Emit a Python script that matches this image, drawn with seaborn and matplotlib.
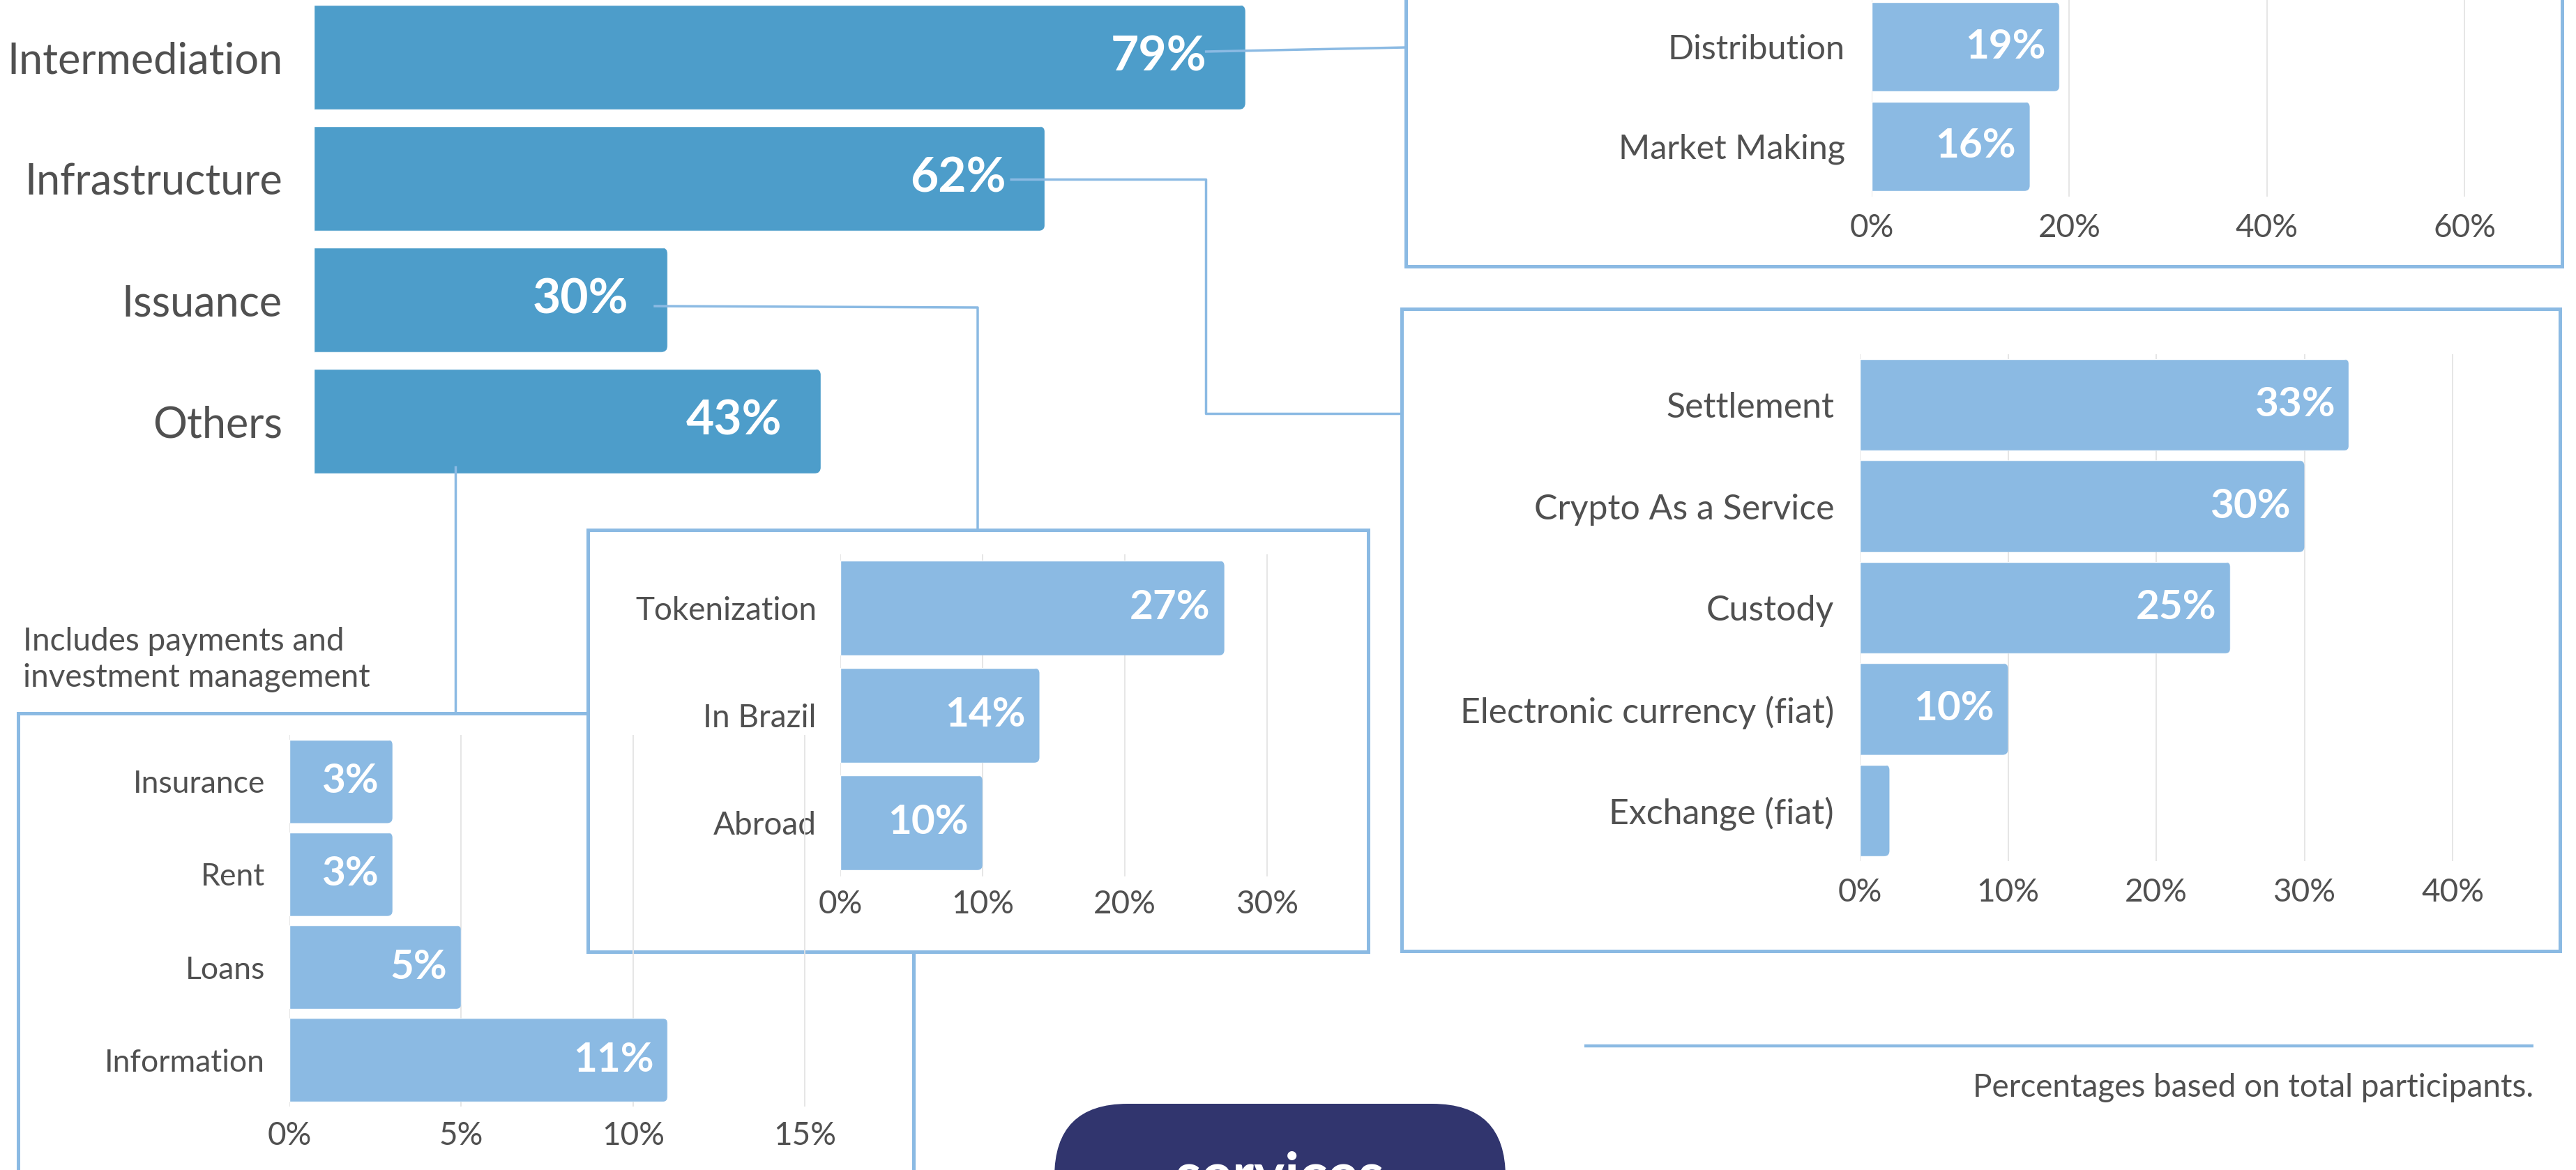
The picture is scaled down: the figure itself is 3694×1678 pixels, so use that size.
import matplotlib
matplotlib.use("Agg")
import matplotlib.pyplot as plt
import seaborn as sns
import pandas as pd
from matplotlib.patches import Rectangle, FancyBboxPatch
from matplotlib.transforms import IdentityTransform

# ---------------- data ----------------
main_categories = ["Intermediation", "Infrastructure", "Issuance", "Others"]
main_values = [79, 62, 30, 43]

intermediation_categories = ["Distribution", "Market Making"]
intermediation_values = [19, 16]
intermediation_ticks = [0, 20, 40, 60]

infrastructure_categories = ["Settlement", "Crypto As a Service", "Custody",
                             "Electronic currency (fiat)", "Exchange (fiat)"]
infrastructure_values = [33, 30, 25, 10, 2]
infrastructure_ticks = [0, 10, 20, 30, 40]

issuance_categories = ["Tokenization", "In Brazil", "Abroad"]
issuance_values = [27, 14, 10]
issuance_ticks = [0, 10, 20, 30]

others_categories = ["Insurance", "Rent", "Loans", "Information"]
others_values = [3, 3, 5, 11]
others_ticks = [0, 5, 10, 15]

others_note = "Includes payments and\ninvestment management"
footnote = "Percentages based on total participants."
badge_text = "services"

# ---------------- style ----------------
W, H, DPI = 3694, 1678, 100
PT = DPI / 72.0
MAIN_C = "#4D9DCA"
SUB_C = "#8BBAE3"
LINE_C = "#8BBAE3"
TXT = "#505050"
NAVY = "#31356E"
GRID_C = "#E4E4E4"

sns.set_theme(style="whitegrid")
plt.rcParams["font.family"] = ["Lato", "DejaVu Sans"]
plt.rcParams["font.weight"] = "normal"

fig = plt.figure(figsize=(W / DPI, H / DPI), dpi=DPI)
fig.patch.set_facecolor("white")


def px_axes(left, top, right, bottom, z=1):
    return fig.add_axes([left / W, 1 - bottom / H, (right - left) / W, (bottom - top) / H], zorder=z)


def overlay(z):
    a = px_axes(0, 0, W, H, z=z)
    a.set_xlim(0, W)
    a.set_ylim(H, 0)
    a.axis("off")
    return a


bg = overlay(0)


def box(l, t, r, b, fill="none", z=1):
    bg.add_patch(Rectangle((l, t), r - l, b - t, fc=fill, ec=LINE_C, lw=3.6, zorder=z))


box(26, 1023, 1310, 1760, fill="white", z=1)     # others box
box(843, 760, 1962, 1365, fill="white", z=2)     # issuance box
box(2016, -20, 3674, 382, fill="white", z=1)     # intermediation box
box(2010, 443, 3671, 1364, fill="white", z=1)    # infrastructure box


def round_bar_ends(ax, radius=9):
    """Clip each bar to a shape with rounded right-hand corners."""
    for p in ax.containers[0]:
        bb = p.get_window_extent()
        clip = FancyBboxPatch((bb.x0 - 40, bb.y0), bb.width + 40, bb.height,
                              boxstyle=f"round,pad=0,rounding_size={radius}",
                              transform=IdentityTransform())
        p.set_clip_path(clip)


def value_labels(ax, values, off_px, size, min_show=3):
    for p, v in zip(ax.containers[0], values):
        if v < min_show:
            continue
        ax.annotate(f"{v}%", (p.get_width(), p.get_y() + p.get_height() / 2),
                    xytext=(-off_px, 0), textcoords="offset pixels",
                    ha="right", va="center", color="white",
                    fontsize=size, fontweight="bold")


def sub_chart(rect, cats, vals, ticks, xmax, width, ypad_px, xpad_px, lab_size):
    ax = px_axes(*rect, z=2)
    df = pd.DataFrame({"cat": cats, "val": vals})
    sns.barplot(data=df, x="val", y="cat", orient="h", color=SUB_C,
                width=width, saturation=1, ax=ax)
    ax.set_xlim(0, xmax)
    ax.set_xticks(ticks)
    ax.set_xticklabels([f"{t}%" for t in ticks])
    ax.set_xlabel("")
    ax.set_ylabel("")
    ax.set_facecolor("none")
    ax.grid(axis="x", color=GRID_C, lw=1.3)
    ax.grid(axis="y", visible=False)
    for s in ax.spines.values():
        s.set_visible(False)
    ax.tick_params(axis="y", length=0, pad=ypad_px / PT, labelsize=lab_size, labelcolor=TXT)
    ax.tick_params(axis="x", length=0, pad=xpad_px / PT, labelsize=33, labelcolor=TXT)
    value_labels(ax, vals, 20, 42)
    round_bar_ends(ax, 8)
    return ax


# ---------------- main chart ----------------
ax_main = px_axes(450, -5, 450 + 80 * 16.91, 691, z=2)
df_main = pd.DataFrame({"cat": main_categories, "val": main_values})
sns.barplot(data=df_main, x="val", y="cat", orient="h", color=MAIN_C,
            width=0.865, saturation=1, ax=ax_main)
ax_main.set_xlim(0, 80)
ax_main.set_xlabel("")
ax_main.set_ylabel("")
ax_main.set_xticks([])
ax_main.grid(False)
ax_main.set_facecolor("none")
for s in ax_main.spines.values():
    s.set_visible(False)
ax_main.tick_params(axis="y", length=0, pad=45 / PT, labelsize=44, labelcolor=TXT)
value_labels(ax_main, main_values, 56, 50)
round_bar_ends(ax_main, 10)

# ---------------- sub charts ----------------
ax_a = sub_chart((2684, -4.5, 2684 + 62 * 14.17, 281.5), intermediation_categories,
                 intermediation_values, intermediation_ticks, 62, 0.895, 38, 24, 35)
ax_b = sub_chart((2667, 508, 2667 + 42 * 21.25, 1235), infrastructure_categories,
                 infrastructure_values, infrastructure_ticks, 42, 0.905, 37, 24, 36)
ax_c = sub_chart((1205, 795, 1205 + 32 * 20.4, 1257), issuance_categories,
                 issuance_values, issuance_ticks, 32, 0.883, 34, 19, 33)
ax_d = sub_chart((415, 1054, 415 + 16 * 49.3, 1587), others_categories,
                 others_values, others_ticks, 16, 0.9, 35, 21, 32)

# ---------------- foreground: connectors, notes, badge ----------------
fg = overlay(5)


def bar_end_px(ax, idx, off):
    p = ax.containers[0][idx]
    x, y = ax.transData.transform((p.get_width(), p.get_y() + p.get_height() / 2))
    return x - off, H - y


lk = dict(color=LINE_C, lw=2.5, solid_capstyle="butt", zorder=5)
x0, y0 = bar_end_px(ax_main, 0, 58)
fg.plot([x0, 2016], [y0 - 8, 68], **lk)
x0, y0 = bar_end_px(ax_main, 1, 50)
fg.plot([x0, 1729, 1729, 2010], [257, 257, 593, 593], **lk)
x0, y0 = bar_end_px(ax_main, 2, 20)
fg.plot([x0, 1402, 1402], [439, 441, 760], **lk)
fg.plot([653, 653], [668, 1023], **lk)

fg.text(33, 946, others_note, ha="left", va="center", fontsize=33, color=TXT,
        linespacing=1.3)

fg.plot([2272, 3633], [1500, 1500], color=LINE_C, lw=3.2, solid_capstyle="butt")
fg.text(3633, 1560, footnote, ha="right", va="center", fontsize=33, color=TXT)

fg.add_patch(FancyBboxPatch((1512, 1583), 2159 - 1512, 400,
                            boxstyle="round,pad=0,rounding_size=105",
                            fc=NAVY, ec="none", zorder=6))
fg.text(1835, 1712, badge_text, ha="center", va="baseline", fontsize=60,
        fontweight="bold", color="white", zorder=7)

fig.savefig("out.png", dpi=DPI, facecolor="white")
